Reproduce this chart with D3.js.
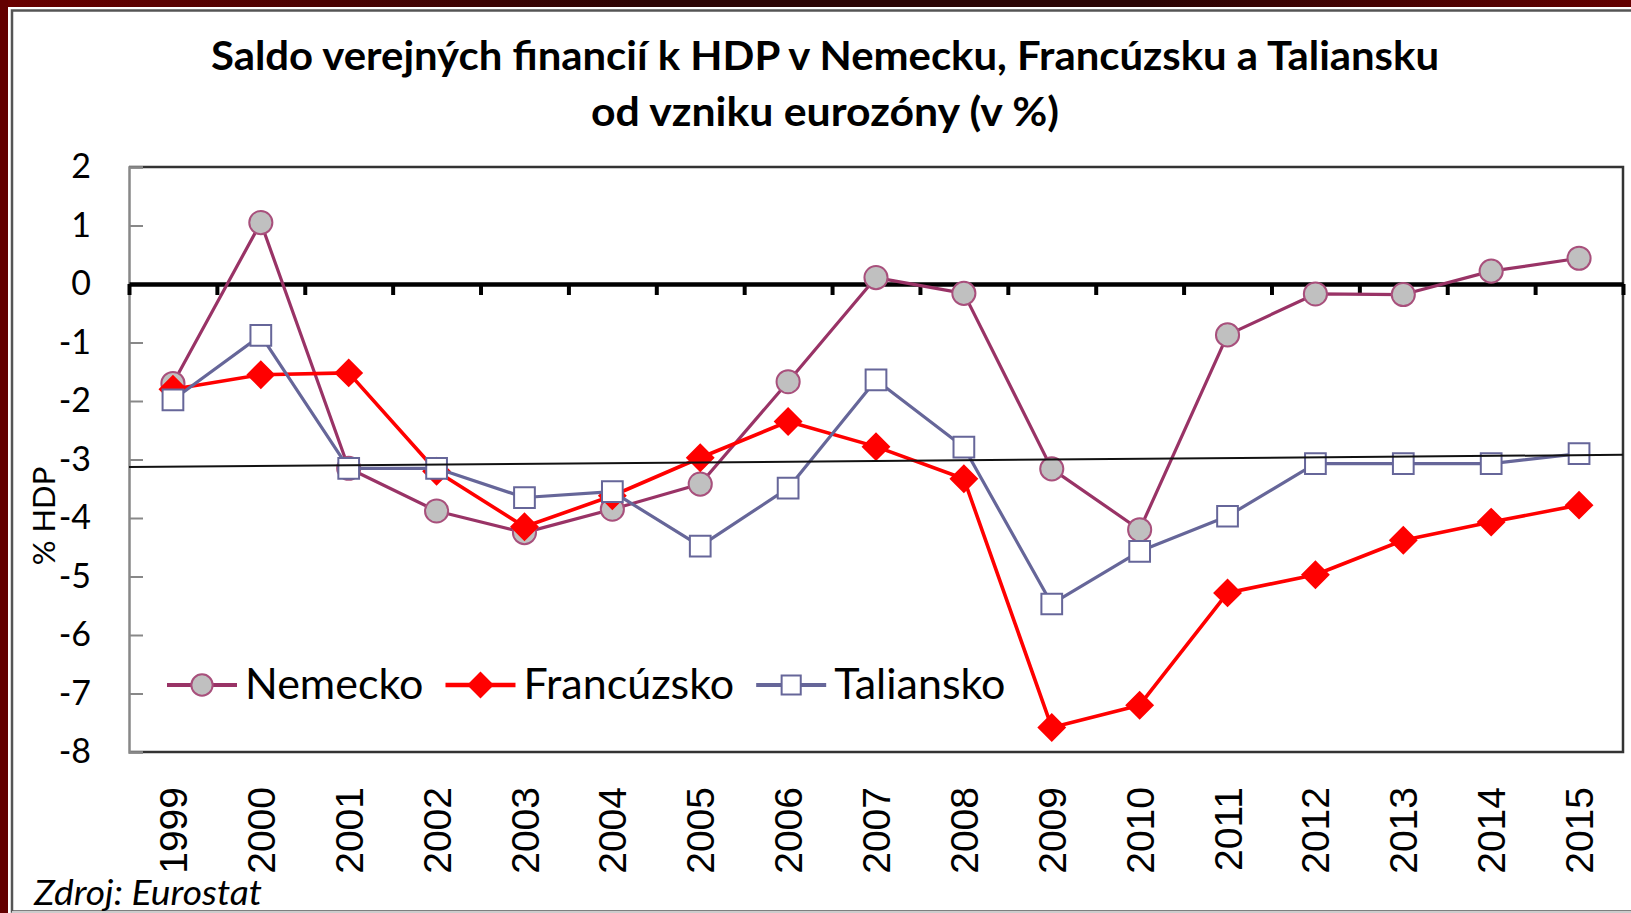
<!DOCTYPE html>
<html>
<head>
<meta charset="utf-8">
<script src="https://cdn.jsdelivr.net/npm/d3@7"></script>
<style>
  body { margin: 0; background: #fff; }
  svg { display: block; }
  text { font-family: Lato, "Open Sans", sans-serif; fill: #000; }
</style>
</head>
<body>
<svg id="chart" width="1631" height="913"></svg>
<script>
// data
const years = ['1999', '2000', '2001', '2002', '2003', '2004', '2005', '2006', '2007',
    '2008', '2009', '2010', '2011', '2012', '2013', '2014', '2015'];
const nemecko = [-1.7, 1.05, -3.15, -3.88, -4.25, -3.85, -3.42, -1.67, 0.11, -0.16,
    -3.16, -4.2, -0.87, -0.17, -0.18, 0.22, 0.44];
const francuzsko = [-1.8, -1.55, -1.52, -3.2, -4.15, -3.62, -2.97, -2.35, -2.78, -3.33,
    -7.58, -7.2, -5.28, -4.97, -4.38, -4.07, -3.78];
const taliansko = [-1.98, -0.88, -3.15, -3.15, -3.65, -3.55, -4.48, -3.49, -1.64, -2.79,
    -5.47, -4.57, -3.97, -3.07, -3.07, -3.07, -2.9];
const yTicks = [2, 1, 0, -1, -2, -3, -4, -5, -6, -7, -8];
const limitLine = [-3.13, -2.92];   // hand drawn -3 % line, left and right end
const seriesNames = ['Nemecko', 'Francúzsko', 'Taliansko'];

const margin = { top: 167, right: 8, bottom: 161, left: 129 },
    W = 1631, H = 913,
    width = W - margin.left - margin.right,
    height = H - margin.top - margin.bottom;

const svg = d3.select('#chart');

// frame
const defs = svg.append('defs');
const grad = defs.append('linearGradient').attr('id', 'band');
grad.append('stop').attr('offset', '0%').attr('stop-color', '#6a0000');
grad.append('stop').attr('offset', '40%').attr('stop-color', '#2c0404');
grad.append('stop').attr('offset', '70%').attr('stop-color', '#2a0404');
grad.append('stop').attr('offset', '100%').attr('stop-color', '#640000');
svg.append('rect').attr('x', 0).attr('y', 0).attr('width', W).attr('height', 7).attr('fill', 'url(#band)');
svg.append('rect').attr('x', 0).attr('y', 0).attr('width', 8).attr('height', H).attr('fill', '#640000');
svg.append('path')
    .attr('d', `M${W + 5},10.5 H12 V${H - 1.5} H${W + 5}`)
    .attr('fill', 'none').attr('stroke', '#555').attr('stroke-width', 2.5);
svg.append('line').attr('x1', 12).attr('x2', W).attr('y1', H - 1).attr('y2', H - 1)
    .attr('stroke', '#ccc').attr('stroke-width', 2);

// title
const title = svg.append('text').attr('text-anchor', 'middle')
    .style('font-weight', 700).style('font-size', '40px');
title.append('tspan').attr('x', 825).attr('y', 70)
    .attr('textLength', 1228).attr('lengthAdjust', 'spacingAndGlyphs')
    .text('Saldo verejných financií k HDP v Nemecku, Francúzsku a Taliansku');
title.append('tspan').attr('x', 825).attr('y', 126)
    .attr('textLength', 468).attr('lengthAdjust', 'spacingAndGlyphs')
    .text('od vzniku eurozóny (v %)');

const g = svg.append('g').attr('transform', `translate(${margin.left},${margin.top})`);

const x = d3.scaleBand().domain(years).range([0, width]);
const y = d3.scaleLinear().domain([-8, 2]).range([height, 0]);

// plot border (top, right, bottom)
g.append('path')
    .attr('d', `M0,0 H${width} V${height} H0`)
    .attr('fill', 'none').attr('stroke', '#333').attr('stroke-width', 2.5);

// y axis
const yAxis = g.append('g').call(d3.axisLeft(y)
    .tickValues(yTicks)
    .tickSize(-14)
    .tickPadding(38)
    .tickFormat(d3.format('d')));
yAxis.select('.domain').attr('stroke', '#888').attr('stroke-width', 2.5);
yAxis.selectAll('.tick line').attr('stroke', '#888').attr('stroke-width', 2);
yAxis.selectAll('.tick text')
    .style('font-family', 'Lato, sans-serif').style('font-size', '34px')
    .text(d => d < 0 ? '-' + Math.abs(d) : d);

// x labels
const xAxis = g.append('g').attr('transform', `translate(0,${height})`)
    .call(d3.axisBottom(x).tickSize(0));
xAxis.select('.domain').remove();
xAxis.selectAll('.tick text')
    .attr('transform', 'rotate(-90)')
    .attr('text-anchor', 'end')
    .attr('x', -35).attr('y', 0).attr('dy', '0.36em')
    .style('font-family', '"Liberation Sans", Arial, sans-serif')
    .style('font-size', '39px');

// zero line with category boundary ticks
const xb = d3.scaleLinear().domain([0, years.length]).range([0, width]);
const zeroAxis = g.append('g').attr('transform', `translate(0,${y(0)})`)
    .call(d3.axisBottom(xb)
        .tickValues(d3.range(0, years.length + 1))
        .tickSize(11)
        .tickSizeOuter(0)
        .tickFormat(''));
zeroAxis.select('.domain').attr('stroke', '#000').attr('stroke-width', 4.5);
zeroAxis.selectAll('.tick line').attr('stroke', '#000').attr('stroke-width', 4);

// series
const cx = d => x(d) + x.bandwidth() / 2;
const series = [
    { name: seriesNames[0], values: nemecko, line: '#993366', lw: 3.2,
        symbol: d3.symbolCircle, size: 420, fill: '#c0c0c0', stroke: '#a8507c', rot: 0 },
    { name: seriesNames[1], values: francuzsko, line: '#ff0000', lw: 3.6,
        symbol: d3.symbolSquare, size: 340, fill: '#ff0000', stroke: '#ff0000', rot: 45 },
    { name: seriesNames[2], values: taliansko, line: '#666699', lw: 3.2,
        symbol: d3.symbolSquare, size: 430, fill: '#ffffff', stroke: '#666699', rot: 0 }
];

const line = d3.line()
    .x((d, i) => cx(years[i]))
    .y(d => y(d));

series.forEach(s => {
    const sg = g.append('g');
    sg.append('path')
        .attr('d', line(s.values))
        .attr('fill', 'none')
        .attr('stroke', s.line)
        .attr('stroke-width', s.lw)
        .attr('stroke-linejoin', 'round');
    sg.selectAll('path.mark')
        .data(s.values)
        .join('path')
        .attr('class', 'mark')
        .attr('d', d3.symbol(s.symbol, s.size))
        .attr('transform', (d, i) => `translate(${cx(years[i])},${y(d)}) rotate(${s.rot})`)
        .attr('fill', s.fill)
        .attr('stroke', s.stroke)
        .attr('stroke-width', 2);
});

// -3 % line
g.append('line')
    .attr('x1', 0).attr('x2', width)
    .attr('y1', y(limitLine[0])).attr('y2', y(limitLine[1]))
    .attr('stroke', '#111').attr('stroke-width', 2);

// legend
const legend = svg.append('g').attr('transform', 'translate(167,685)');
let lx = 0;
series.forEach(s => {
    const item = legend.append('g').attr('transform', `translate(${lx},0)`);
    item.append('line').attr('x1', 0).attr('x2', 70)
        .attr('stroke', s.line).attr('stroke-width', s.lw + 1);
    item.append('path')
        .attr('d', d3.symbol(s.symbol, s.size * 0.85))
        .attr('transform', `translate(35,0) rotate(${s.rot})`)
        .attr('fill', s.fill).attr('stroke', s.stroke).attr('stroke-width', 2);
    const t = item.append('text').attr('x', 78).attr('y', 14)
        .style('font-size', '43px').text(s.name);
    lx += 78 + t.node().getComputedTextLength() + 22;
});

// y axis title
svg.append('text')
    .attr('transform', 'translate(55,516) rotate(-90)')
    .attr('text-anchor', 'middle')
    .style('font-size', '31px')
    .text('% HDP');

// source
svg.append('text')
    .attr('x', 34).attr('y', 905)
    .attr('textLength', 228).attr('lengthAdjust', 'spacingAndGlyphs')
    .style('font-style', 'italic').style('font-size', '35px')
    .text('Zdroj: Eurostat');
</script>
</body>
</html>
